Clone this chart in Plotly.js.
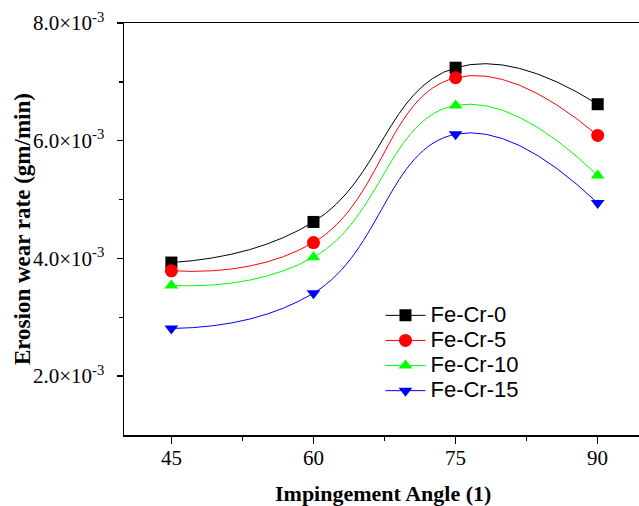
<!DOCTYPE html>
<html>
<head>
<meta charset="utf-8">
<script src="https://cdn.plot.ly/plotly-3.0.1.min.js"></script>
<style>html,body{margin:0;padding:0;background:#fff;}#chart{width:639px;height:506px;}</style>
</head>
<body>
<div id="chart"></div>
<script>
const angles = [45, 60, 75, 90];
const feCr0 = [3.93e-3, 4.62e-3, 7.24e-3, 6.62e-3];
const feCr5 = [3.79e-3, 4.27e-3, 7.07e-3, 6.09e-3];
const feCr10 = [3.54e-3, 4.02e-3, 6.60e-3, 5.41e-3];
const feCr15 = [2.81e-3, 3.41e-3, 6.11e-3, 4.94e-3];
const seriesNames = ['Fe-Cr-0', 'Fe-Cr-5', 'Fe-Cr-10', 'Fe-Cr-15'];
const colors = ['#000000', '#ff0000', '#00ff00', '#0000ff'];
const symbols = ['square', 'circle', 'triangle-up', 'triangle-down'];
const yTickVals = [2e-3, 4e-3, 6e-3, 8e-3];
const yTickText = ['2.0×10<sup>-3</sup>', '4.0×10<sup>-3</sup>', '6.0×10<sup>-3</sup>', '8.0×10<sup>-3</sup>'];
const xTickVals = [45, 60, 75, 90];
const xTitle = 'Impingement Angle (1)';
const yTitle = 'Erosion wear rate (gm/min)';

const allSeries = [feCr0, feCr5, feCr10, feCr15];
const traces = allSeries.map((ys, i) => ({
  x: angles, y: ys, name: '<span style="font-size:22px">' + seriesNames[i] + '</span>',
  type: 'scatter', mode: 'lines+markers',
  line: {color: colors[i], width: 1, shape: 'spline', smoothing: 1.3},
  marker: {color: colors[i], symbol: symbols[i], size: symbols[i] === 'circle' ? 13 : 12}
}));

const serif = 'Liberation Serif, Times New Roman, serif';
const annotations = xTickVals.map(v => ({
  x: v, xref: 'x', y: 0, yref: 'paper', yanchor: 'top', xanchor: 'center', yshift: -9,
  text: String(v), showarrow: false, font: {family: serif, size: 21, color: '#000'}
}));
annotations.push({
  x: 0.503, xref: 'paper', y: -0.142, yref: 'paper', xanchor: 'center', yanchor: 'middle',
  text: '<b>' + xTitle + '</b>', showarrow: false, font: {family: serif, size: 22, color: '#000'}
});
annotations.push({
  x: -0.198, xref: 'paper', y: 0.5, yref: 'paper', xanchor: 'center', yanchor: 'middle', textangle: -90,
  text: '<b>' + yTitle + '</b>', showarrow: false, font: {family: serif, size: 23, color: '#000'}
});

const layout = {
  width: 639, height: 506,
  margin: {l: 124, r: 0, t: 23, b: 71},
  paper_bgcolor: '#fff', plot_bgcolor: '#fff',
  showlegend: true,
  legend: {x: 0.498, y: 0.333, xanchor: 'left', yanchor: 'top', bgcolor: 'rgba(0,0,0,0)',
    font: {family: 'Liberation Sans, Arial, sans-serif', size: 17, color: '#000'}, tracegroupgap: 0, itemwidth: 40},
  annotations: annotations,
  xaxis: {
    range: [40, 94.36], tickmode: 'array', tickvals: xTickVals, showticklabels: false,
    ticks: 'outside', ticklen: 7, tickwidth: 1.5, tickcolor: '#000',
    showline: true, linecolor: '#000', linewidth: 1.5, mirror: true,
    showgrid: false, zeroline: false,
    minor: {tickvals: [52.5, 67.5, 82.5], ticks: 'outside', ticklen: 4, tickwidth: 1.5, tickcolor: '#000', showgrid: false}
  },
  yaxis: {
    range: [1.0e-3, 8.0e-3], tickmode: 'array', tickvals: yTickVals, ticktext: yTickText,
    ticks: 'outside', ticklen: 6, tickwidth: 1.5, tickcolor: '#000', ticklabelstandoff: 8,
    showline: true, linecolor: '#000', linewidth: 1.5, mirror: false,
    showgrid: false, zeroline: false,
    minor: {tickvals: [3e-3, 5e-3, 7e-3], ticks: 'outside', ticklen: 4, tickwidth: 1.5, tickcolor: '#000', showgrid: false},
    tickfont: {family: serif, size: 21, color: '#000'}
  }
};
Plotly.newPlot('chart', traces, layout, {displayModeBar: false, staticPlot: true});
</script>
</body>
</html>
